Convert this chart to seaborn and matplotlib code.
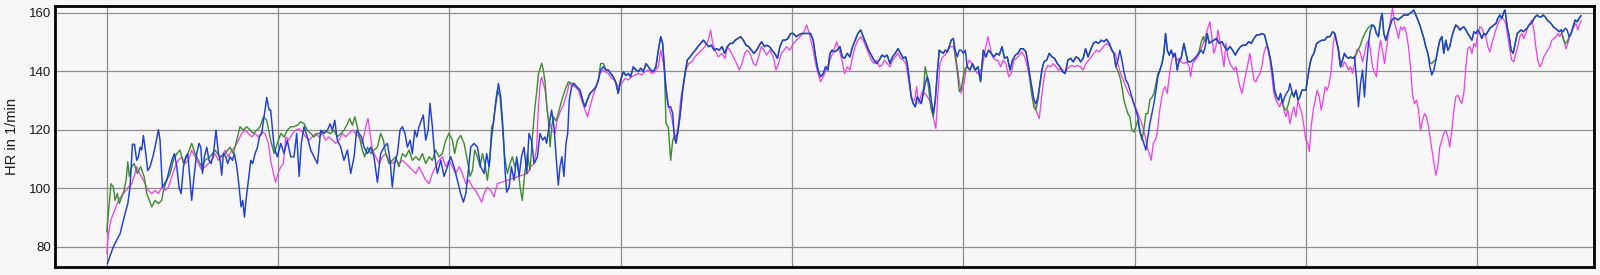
import matplotlib
matplotlib.use("Agg")
import matplotlib.pyplot as plt
import seaborn as sns
import pandas as pd
from matplotlib.ticker import MultipleLocator

# ---------------- data (time in minutes, HR in 1/min) ----------------
t_blue = [
    0.04,0.39,0.78,1.07,1.23,1.36,1.50,1.62,1.75,1.85,1.95,2.04,2.14,2.28,2.39,2.53,2.69,2.82,3.02,3.11,
    3.25,3.37,3.50,3.60,3.70,3.83,3.95,4.09,4.22,4.34,4.48,4.61,4.73,4.86,4.96,5.10,5.25,5.39,5.49,5.59,
    5.70,5.84,5.97,6.09,6.23,6.38,6.52,6.62,6.71,6.81,6.95,7.06,7.20,7.34,7.45,7.59,7.73,7.84,7.94,8.04,
    8.13,8.27,8.41,8.52,8.66,8.80,8.91,9.05,9.15,9.24,9.34,9.48,
    9.57,9.77,9.96,10.16,10.35,10.54,10.74,10.93,11.09,11.23,11.36,11.52,11.71,11.91,12.10,12.30,12.49,12.69,12.88,13.04,
    13.17,13.31,13.46,13.66,13.85,14.05,14.24,14.44,14.59,14.73,14.87,15.02,15.22,15.41,15.60,15.80,15.99,16.19,16.38,16.54,
    16.67,16.81,16.97,17.12,17.26,17.41,17.55,17.71,17.84,17.98,18.10,18.23,18.37,18.48,18.62,18.76,18.87,19.01,19.15,19.30,
    19.50,19.69,19.89,20.08,20.27,20.47,20.66,20.82,20.96,21.09,21.25,21.44,21.64,21.83,22.03,22.18,22.32,22.45,22.61,22.77,
    22.86,23.00,23.14,23.25,23.35,23.49,23.62,23.78,23.93,24.07,24.21,24.36,24.52,24.65,24.79,24.95,25.14,
    25.29,25.45,25.58,25.68,25.84,25.97,26.11,26.22,26.36,26.46,26.57,26.69,26.81,26.91,27.00,27.14,27.28,27.43,27.63,27.78,
    27.92,28.05,28.21,28.40,28.56,28.70,28.83,28.99,29.14,29.28,29.42,29.57,29.73,29.86,30.00,30.16,30.31,30.45,30.58,30.74,
    30.90,31.03,31.17,31.32,31.48,31.62,31.75,31.91,32.06,32.20,32.34,32.45,32.55,32.65,32.78,32.92,33.04,33.13,33.23,33.33,
    33.46,33.62,33.76,33.89,34.05,34.20,34.36,34.51,34.67,34.83,34.98,35.14,35.29,35.45,35.60,35.76,35.92,36.07,36.23,36.38,
    36.54,36.69,36.85,37.01,37.16,37.32,37.47,37.63,37.78,37.94,38.10,38.23,38.39,38.52,38.68,38.83,38.99,39.15,39.30,39.46,
    39.61,39.77,39.92,40.08,40.24,40.39,40.55,40.70,40.86,41.01,
    41.09,41.24,41.38,41.52,41.67,41.83,41.96,42.10,42.22,42.35,42.49,42.64,42.80,42.94,43.07,43.23,43.38,43.54,43.69,43.85,
    44.01,44.16,44.32,44.47,44.63,44.78,44.94,45.10,45.25,45.41,45.56,45.72,45.87,46.03,46.19,46.34,46.50,46.63,46.73,46.85,
    46.96,47.08,47.20,47.31,47.43,47.55,47.66,47.78,47.90,48.02,48.13,48.25,48.37,48.48,48.60,48.72,48.83,48.95,49.07,49.18,
    49.30,49.42,49.53,49.65,49.77,49.88,50.00,50.12,50.23,50.39,50.54,50.70,50.86,51.01,51.17,51.32,51.48,51.63,51.79,51.95,
    52.10,52.26,52.41,52.57,52.73,52.88,53.04,53.19,53.35,53.50,53.66,53.81,53.97,54.13,54.24,54.36,54.48,54.59,54.71,54.87,
    55.02,55.18,55.33,55.49,55.64,55.80,55.95,56.11,56.27,56.42,56.58,56.73,
    56.85,57.00,57.14,57.28,57.43,57.59,57.74,57.90,58.05,58.21,58.37,58.52,58.68,58.79,58.91,59.03,59.14,59.26,59.38,59.49,
    59.61,59.73,59.84,59.96,60.08,60.19,60.31,60.43,60.54,60.66,60.78,60.89,61.01,61.13,61.25,61.36,61.48,61.60,61.71,61.81,
    61.91,62.02,62.14,62.26,62.37,62.49,62.61,62.72,62.88,63.00,63.11,63.27,63.42,63.58,63.74,63.89,64.01,64.13,64.24,64.36,
    64.48,64.63,64.79,64.94,65.10,65.25,65.41,65.57,65.72,65.88,66.03,66.19,66.34,66.50,66.66,66.81,66.97,67.12,67.28,67.43,
    67.59,67.71,67.82,67.94,68.06,68.17,68.29,68.41,68.52,68.64,68.76,68.87,68.99,69.07,69.19,69.30,69.42,69.54,69.65,69.77,
    69.89,70.00,70.12,70.24,70.35,70.47,70.63,70.78,70.94,71.09,71.25,71.40,71.56,71.68,71.79,71.91,
    72.02,72.14,72.25,72.37,72.49,72.61,72.72,72.84,72.96,73.07,73.19,73.31,73.42,73.54,73.66,73.77,73.89,74.01,74.12,74.24,
    74.36,74.45,74.55,74.67,74.78,74.90,75.02,75.14,75.25,75.37,75.49,75.60,75.72,75.84,75.95,76.07,76.19,76.30,76.42,76.54,
    76.65,76.77,76.89,77.00,77.12,77.24,77.35,77.47,77.59,77.70,77.82,77.94,78.05,78.17,78.29,78.40,78.52,78.64,78.75,78.87,
    78.99,79.10,79.22,79.34,79.45,79.57,79.69,79.81,79.92,80.04,80.16,80.27,80.39,80.51,80.62,80.74,80.86,80.97,81.09,81.21,
    81.32,81.44,81.56,81.63,81.75,81.87,81.98,82.10,82.22,82.34,82.45,82.57,82.69,82.80,82.92,83.04,83.15,83.27,83.39,83.50,
    83.62,83.74,83.85,83.97,84.09,84.20,84.32,84.44,84.55,84.67,84.79,84.90,85.02,85.14,85.25,85.37,85.49,85.60,85.72,85.84,
    85.95,86.07,
]
hr_blue = [
    74.2,80,84.4,91.3,94.7,100.3,115,115,109.5,110.7,114,113,118,111.8,106,107.3,110.7,114,120,116.4,
    100.3,101.5,102.7,105,107.3,110,111.8,107.3,100.3,98.1,107.3,110.7,111.8,102.7,95.8,104.1,111.8,115.3,114,105,
    110.7,114,109.5,108.4,111.8,119.8,111.8,109.5,104.4,111.8,110.7,108.4,110.7,109.5,111.8,107.3,100.3,93.6,95.8,90.1,
    95.8,102.7,109.5,108.4,111.8,114,117.5,118.7,123.2,126.7,131,126.7,
    126.7,114,110.7,115.3,111.8,116.4,110.7,110.7,118.7,104,115.3,121,117.5,113,110.7,108.4,119.8,118.7,119.8,122,
    119.8,123.2,116.4,114,109.5,113,105,110.7,119.8,118.7,117.5,114,111.8,114,110.7,102,111.8,114,115.3,109.5,
    100.3,108.4,111.8,119.8,121,118.7,114,116.4,111.8,119.8,117.5,121,123.2,125,116.4,119.8,129,121,110.7,105,
    109.5,104,107.3,110.7,107.3,102.7,98.1,95.2,98.1,105,114,115.3,114,107.3,105,111.8,107.3,116.4,124.4,131.2,
    135.8,131.2,119.8,106.1,98.6,100.3,107.3,102.7,110.7,104,110.7,114,105,118.7,116.4,108.4,110.7,
    118.7,116.4,117.5,115.3,122,126.7,121,111.8,101,107.3,110.7,104,115.3,118.7,130.1,134.7,135.8,134.7,133.5,130.1,
    127.8,130.1,132.4,133.5,134.7,137,140.4,141.5,140.4,140.4,139.2,138.1,135.8,132.4,137,139.8,138.5,139.2,138.1,141.5,
    140.4,139.8,141,139.8,142.6,141.5,140.4,139.8,141.5,147.2,151.8,149.5,141.5,133.5,127.8,127.8,125.5,117.5,115.3,118.7,
    124.4,133.5,139.2,143.8,144.9,146.1,147.2,148.4,149.5,150.6,149.5,148.4,148.9,147.2,147.7,147.2,148.4,146.1,148.4,149.5,
    149.5,150.6,151.2,151.8,150.6,148.9,148.4,147.2,146.1,147.2,148.9,150.1,148.4,148.9,148.4,147.2,146.1,144.4,148.4,150.6,
    150.6,151.2,152.9,152.9,151.8,152.4,152.9,152.9,152.9,152.9,
    152.9,150.6,144.9,140.4,138.1,139.2,141.5,140.4,146.1,147.2,146.6,147.2,148.4,144.9,144.4,146.1,144.9,148.4,150.6,152.9,
    154.1,151.8,149.5,147.2,145.5,143.8,142.6,143.8,145.5,144.9,145.5,142.6,144.9,146.1,147.7,146.1,144.4,144.9,142.6,137,
    131.2,128.9,127.8,131.2,130.1,128.9,132.4,135.8,138.1,135.8,130.1,125.5,130.1,139.2,147.2,146.6,146.1,147.2,146.6,148.4,
    150.6,151.2,147.2,144.9,147.2,147.2,146.1,147.2,141.5,140.4,142.6,140.4,141.5,136.4,147.2,144.9,147.2,146.1,144.9,146.1,
    145.5,148.4,144.4,144.9,140.4,143.8,145.5,146.1,147.7,147.7,146.6,141.5,135.8,130.1,128.9,131.2,135.8,140.4,143.2,143.8,
    146.1,144.9,144.4,142.6,141.5,139.8,139.2,143.8,144.4,143.2,144.9,144.4,
    143.2,144.4,147.7,144.9,147.2,149.5,150.1,149.5,150.6,150.1,150.9,149.5,147.2,146.1,141.5,143.8,147.2,143.8,139.8,137,
    135.8,133.5,131.2,128.9,126.7,124.4,119.2,117.5,115.3,113,117.5,122,125.5,128.9,133.5,138.1,140.4,142.6,146.1,152.9,
    147.2,145.5,147.2,144.9,146.1,140.4,143.8,144.4,149.5,146.1,143.2,143.2,143.8,144.9,146.1,147.2,146.1,148.4,152.9,149.5,
    150.1,150.6,151.2,149.5,150.1,148.4,147.2,148.4,147.2,145.5,147.2,148.4,148.9,148.9,150.1,149.5,151.2,152.4,152.4,152.9,
    152.4,149.5,147.2,143.8,139.2,133.5,131.2,130.1,132.4,128.9,131.2,132.4,133.5,135.8,132.9,131.2,133.5,130.1,131.2,133.5,
    133.5,133.5,138.1,142.6,144.9,146.1,149.5,150.1,150.6,150.6,151.8,151.8,153.5,152.9,150.1,147.2,
    141.5,143.8,146.1,144.9,144.4,144.9,144.4,144.9,137,127.8,135.8,140.4,131.2,142,150,154.1,155.8,155.2,152.9,151.8,
    157.5,159.8,152.9,150.6,152.9,155.2,157.5,158.1,158.1,157.5,158.1,158.6,159.2,159.2,159.2,159.8,160.3,160.9,159.2,157.5,
    155.8,153.5,151.2,148.4,146.1,141.5,138.7,140.4,143.8,147.2,150.6,151.8,146.1,150.6,147.2,148.4,151.8,154.1,155.8,155.2,
    154.1,154.7,155.2,154.1,152.9,151.8,150.6,153.5,152.9,154.1,152.9,151.2,152.9,152.4,153.5,154.7,155.2,155.8,156.3,158.1,
    159.2,158.1,160.3,160.9,155.2,151.8,147.2,146.1,149.5,152.9,153.5,154.1,153.5,154.1,154.7,155.8,156.3,157.5,158.6,159.2,
    158.6,158.6,159.2,158.6,157.5,156.9,156.3,155.2,154.7,154.1,153.5,154.1,153.5,154.7,154.1,151.8,152.9,155.2,157.5,156.9,
    158.1,159,
]

t_green = [
    0.00,0.25,0.39,0.49,0.62,0.74,0.88,1.01,1.13,1.23,1.32,1.46,1.60,1.79,1.98,2.18,2.34,2.63,2.82,3.02,
    3.21,3.31,3.50,3.70,3.89,4.09,4.28,4.48,4.67,4.96,5.16,5.35,5.55,5.74,6.03,6.32,6.62,6.91,7.20,7.39,
    7.59,7.78,7.98,8.17,8.37,8.56,8.76,8.95,9.15,9.34,
    9.57,9.77,9.96,10.16,10.35,10.54,10.74,10.93,11.13,11.32,11.52,11.71,11.91,12.10,12.30,12.49,12.69,12.88,13.07,13.27,
    13.46,13.66,13.85,14.05,14.18,14.34,14.48,14.63,14.79,14.92,15.06,15.22,15.41,15.60,15.80,15.99,16.15,16.29,16.48,16.67,
    16.87,17.06,17.26,17.45,17.65,17.84,18.04,18.23,18.43,18.62,18.82,19.01,19.20,19.40,19.59,19.79,19.98,20.18,20.31,20.47,
    20.66,20.86,21.05,21.21,21.35,21.48,21.64,21.79,21.93,22.07,22.22,22.36,22.47,22.57,22.71,22.80,22.96,23.10,23.23,23.39,
    23.54,23.68,23.82,23.97,24.13,24.26,24.40,24.56,24.71,
    24.85,24.98,25.10,25.20,25.39,25.49,25.59,25.69,25.78,25.88,25.98,26.07,26.23,26.36,26.56,26.75,26.95,27.14,
    27.28,27.43,27.63,27.78,27.92,28.05,28.21,28.40,28.56,28.70,28.83,28.99,29.14,29.28,29.42,29.57,29.73,29.86,30.00,30.16,
    30.31,30.45,30.58,30.74,30.90,31.03,31.17,31.32,31.48,31.62,31.75,31.91,32.06,32.20,32.34,32.45,32.55,32.65,32.78,32.92,
    33.04,33.13,33.23,33.33,33.46,33.62,33.76,33.89,34.05,34.20,34.36,34.51,34.67,34.83,34.98,35.14,35.29,35.45,35.60,35.76,
    35.92,36.07,36.23,36.38,36.54,36.69,36.85,37.01,37.16,37.32,37.47,37.63,37.78,37.94,38.10,38.23,38.39,38.52,38.68,38.83,
    38.99,39.15,39.30,39.46,39.61,39.77,39.92,40.08,40.24,40.39,40.55,40.70,40.86,41.01,
    41.09,41.24,41.38,41.52,41.67,41.83,41.96,42.10,42.22,42.35,42.49,42.64,42.80,42.94,43.07,43.23,43.38,43.54,43.69,43.85,
    44.01,44.16,44.32,44.47,44.63,44.78,44.94,45.10,45.25,45.41,45.56,45.72,45.87,46.03,46.19,46.34,46.50,46.63,46.73,46.85,
    46.96,47.08,47.20,47.31,47.43,47.55,47.66,47.78,47.90,48.02,48.13,48.25,48.37,48.48,48.60,48.72,48.83,48.95,49.07,49.18,
    49.30,49.42,49.53,49.65,49.77,49.88,50.00,50.12,50.23,50.39,50.54,50.70,50.86,51.01,51.17,51.32,51.48,51.63,51.79,51.95,
    52.10,52.26,52.41,52.57,52.73,52.88,53.04,53.19,53.35,53.50,53.66,53.81,53.97,54.13,54.24,54.36,54.48,54.59,54.71,54.87,
    55.02,55.18,55.33,55.49,55.64,55.80,55.95,56.11,56.27,56.42,56.58,56.73,
    56.85,57.00,57.14,57.28,57.43,57.59,57.74,57.90,58.05,58.21,58.37,58.52,58.68,58.79,58.91,59.03,59.14,59.26,59.38,59.49,
    59.61,59.73,59.84,59.96,60.08,60.19,60.31,60.43,60.54,60.66,60.78,60.89,61.01,61.13,61.25,61.36,61.48,61.60,61.71,61.81,
    61.91,62.02,62.14,62.26,62.37,62.49,62.61,62.72,62.88,63.00,63.11,63.27,63.42,63.58,63.74,63.89,64.01,64.13,64.24,64.36,
    64.48,64.63,64.79,64.94,65.10,65.25,65.41,65.57,65.72,65.88,66.03,66.19,66.34,66.50,66.66,66.81,66.97,67.12,67.28,67.43,
    67.59,67.71,67.82,67.94,68.06,68.17,68.29,68.41,68.52,68.64,68.76,68.87,68.99,69.07,69.19,69.30,69.42,69.54,69.65,69.77,
    69.89,70.00,70.12,70.24,70.35,70.47,70.63,70.78,70.94,71.09,71.25,71.40,71.56,71.68,71.79,71.91,
    72.02,72.14,72.25,72.37,72.49,72.61,72.72,72.84,72.96,73.07,73.19,73.31,73.42,73.54,73.66,73.77,73.89,74.01,74.12,74.24,
    74.36,74.45,74.55,74.67,74.78,74.90,75.02,75.14,75.25,75.37,75.49,75.60,75.72,75.84,75.95,76.07,76.19,76.30,76.42,76.54,
    76.65,76.77,76.89,77.00,77.12,77.24,77.35,77.47,77.59,77.70,77.82,77.94,78.05,78.17,78.29,78.40,78.52,78.64,78.75,78.87,
    78.99,79.10,79.22,79.34,79.45,79.57,79.69,79.81,79.92,80.04,80.16,80.27,80.39,80.51,80.62,80.74,80.86,80.97,81.09,81.21,
    81.32,81.44,81.56,81.63,81.75,81.87,81.98,82.10,82.22,82.34,82.45,82.57,82.69,82.80,82.92,83.04,83.15,83.27,83.39,83.50,
    83.62,83.74,83.85,83.97,84.09,84.20,84.32,84.44,84.55,84.67,84.79,84.90,85.02,85.14,85.25,85.37,85.49,85.60,85.72,85.84,
    85.95,86.07,
]
hr_green = [
    85,101.5,100.3,95.8,98.1,94.7,97,99.2,102.7,109,104,107.3,108.4,105,107.3,104,98.1,93.6,95.8,94.7,
    95.8,99.2,102.7,105,109.5,111.8,113,108.4,110.7,115.3,111.8,109.5,107.3,109.5,110.7,113,110.7,111.8,114,111.8,
    116.4,121,119.8,121,119.8,118.7,119.8,121,124.4,123.2,
    116.4,111.8,115.3,118.7,117.5,119.8,121,121,121.5,122.7,122,119.8,118.7,117.5,118.7,118.7,119.8,119.2,118.7,119.8,
    117.5,118.7,119.8,122,123.8,121.5,124.4,121,116.4,113,110.7,114,111.8,113,114,118.7,116.4,111.8,108.4,109.5,
    110.7,107.3,111.8,110.7,113,109.5,110.7,109.5,111.8,108.4,110.7,109.5,113,110.7,111.8,116.4,118.7,116.4,111.8,116.4,
    118,115.3,109.5,104,106.1,113,110.7,107.3,111.8,108.4,102.7,109.5,121,122,130.1,133.5,131.2,121,110.7,105,
    108.4,110.7,107.3,109.5,100.3,95.8,105,111.8,106.1,
    117.5,126.7,133,139,142.7,140.4,136,127.8,123.3,114.1,121,124.4,123,125.5,130.1,133.5,136.4,135.8,
    135.8,134.7,133.5,130.1,127.8,130.1,132.4,133.5,134.7,137,142.6,142.6,140.4,140.4,139.2,138.1,135.8,132.4,137,139.8,
    138.5,139.2,138.1,141.5,140.4,139.8,141,139.8,142.6,141.5,140.4,139.8,141.5,147.2,151.8,149.5,141.5,122,121,109.5,
    116.4,117.5,118,118.7,124.4,133.5,139.2,143.8,144.9,146.1,147.2,148.4,149.5,150.6,149.5,148.4,148.9,147.2,147.7,147.2,
    148.4,146.1,148.4,149.5,149.5,150.6,151.2,151.8,150.6,148.9,148.4,147.2,146.1,147.2,148.9,150.1,148.4,148.9,148.4,147.2,
    146.1,144.4,148.4,150.6,150.6,151.2,152.9,152.9,151.8,152.4,152.9,152.9,152.9,152.9,
    152.9,150.6,144.9,140.4,138.1,139.2,141.5,140.4,146.1,147.2,146.6,147.2,148.4,144.9,144.4,146.1,144.9,148.4,150.6,152.9,
    154.1,151.8,149.5,147.2,145.5,143.8,142.6,143.8,145.5,144.9,145.5,142.6,144.9,146.1,147.7,146.1,144.4,144.9,142.6,137,
    131.2,128.9,127.8,131.2,130.1,128.9,132.4,141.5,138,132,127,124.4,130,139.2,147.2,146.6,146.1,147.2,146.6,148.4,
    150.6,151.2,145,140,133,134,138,141,141.5,140.4,142.6,140.4,141.5,136.4,147.2,144.9,147.2,146.1,144.9,146.1,
    145.5,148.4,144.4,144.9,140.4,143.8,145.5,146.1,147.7,147.7,146.6,141.5,133,127.5,126.7,130,135.8,140.4,143.2,143.8,
    146.1,144.9,144.4,142.6,141.5,139.8,139.2,143.8,144.4,143.2,144.9,144.4,
    143.2,144.4,147.7,144.9,147.2,149.5,150.1,149.5,150.6,150.1,150.9,149.5,147.2,146.1,141.5,140,138.1,134.7,130.1,127.8,
    125.5,124.4,119.8,119.2,121,123.2,119.8,116.4,120,125.5,125.5,130.1,131,132.4,135.8,139.2,140.4,142.6,146.1,152.9,
    147.2,145.5,147.2,144.9,146.1,140.4,143.8,144.4,149.5,146.1,143.2,143.2,143.8,144.9,146.1,150,151.8,150,152.9,149.5,
    150.1,150.6,151.2,149.5,150.1,148.4,147.2,148.4,147.2,145.5,147.2,148.4,148.9,148.9,150.1,149.5,151.2,152.4,152.4,152.9,
    152.4,149.5,147.2,143.8,139.2,133.5,131.2,130.1,132.4,128.9,127,126.7,129,131,132.9,131.2,133.5,130.1,131.2,133.5,
    133.5,133.5,138.1,142.6,144.9,146.1,149.5,150.1,150.6,150.6,151.8,151.8,153.5,152.9,150.1,147.2,
    141.5,143.8,146.1,144.9,144.4,144.9,144.4,145,146,147.5,149,151.2,152.6,154,155,155.5,156,155.2,152.9,151.8,
    157.5,159.8,152.9,150.6,152.9,155.2,157.5,158.1,158.1,157.5,158.1,158.6,159.2,159.2,159.2,159.8,160.3,160.9,159.2,157.5,
    155.8,153.5,151.2,148.4,146.1,143,142.6,143.5,143.8,147.2,150.6,151.8,146.1,150.6,147.2,148.4,151.8,154.1,155.8,155.2,
    154.1,154.7,155.2,154.1,152.9,151.8,150.6,153.5,152.9,154.1,152.9,151.2,152.9,152.4,153.5,154.7,155.2,155.8,156.3,158.1,
    159.2,158.1,160.3,160.9,155.2,151.8,147.2,146.1,149.5,152.9,153.5,154.1,153.5,154.1,154.7,155.8,156.3,157.5,158.6,159.2,
    158.6,158.6,159.2,158.6,157.5,156.9,156.3,155.2,154.7,154.1,153.5,154.1,151,149.5,150,151.8,152.9,155.2,157.5,156.9,
    158.1,159,
]

t_magenta = [
    0.00,0.10,0.23,0.39,0.54,0.68,0.82,0.97,1.13,1.26,1.46,1.65,1.75,1.91,2.04,2.24,2.43,2.63,2.82,3.02,
    3.21,3.41,3.60,3.79,3.99,4.18,4.38,4.57,4.77,4.96,5.16,5.35,5.55,5.74,5.94,6.13,6.32,6.52,6.71,6.91,
    7.10,7.30,7.49,7.69,7.88,8.08,8.27,8.47,8.66,8.85,9.05,9.24,9.44,
    9.57,9.73,9.86,10.00,10.16,10.31,10.45,10.64,10.84,11.03,11.23,11.42,11.62,11.81,12.00,12.20,12.39,12.59,12.78,12.98,
    13.17,13.37,13.56,13.76,13.95,14.14,14.34,14.53,14.73,14.92,15.12,15.25,15.37,15.51,15.70,15.90,16.09,16.29,16.48,16.67,
    16.87,17.06,17.26,17.45,17.65,17.84,18.04,18.23,18.43,18.62,18.82,19.01,19.20,19.40,19.59,19.79,19.98,20.18,20.37,20.57,
    20.76,20.96,21.15,21.35,21.54,21.73,21.89,22.03,22.22,22.42,22.61,22.80,24.56,24.75,24.95,
    25.10,25.20,25.30,25.39,25.48,25.59,25.76,25.98,26.17,26.29,26.46,26.63,26.86,
    27.00,27.14,27.33,27.53,27.72,27.92,28.07,28.21,28.37,28.50,28.64,28.79,28.95,29.09,29.28,29.47,29.67,29.86,30.06,30.25,
    30.45,30.64,30.84,31.03,31.23,31.42,31.62,31.81,32.00,32.20,32.34,32.49,32.65,32.80,32.98,33.11,33.23,33.37,33.50,33.66,
    33.81,33.97,34.15,34.34,34.53,34.73,34.92,35.12,35.25,35.37,35.51,35.70,35.90,36.09,36.23,36.38,36.58,36.77,36.93,37.08,
    37.24,37.39,37.55,37.75,37.90,38.06,38.21,38.37,38.52,38.72,38.91,39.07,39.22,39.38,39.54,39.69,39.89,40.08,40.27,40.47,
    40.66,40.86,41.01,
    41.24,41.38,41.52,41.67,41.83,41.98,42.14,42.29,42.45,42.61,42.76,42.92,43.07,43.23,43.38,43.54,43.69,43.85,44.01,44.16,
    44.32,44.47,44.63,44.78,44.94,45.10,45.25,45.41,45.56,45.72,45.87,46.03,46.19,46.34,46.50,46.65,46.81,46.93,47.04,47.16,
    47.28,47.39,47.51,47.63,47.74,47.86,48.02,48.17,48.29,48.40,48.52,48.64,48.79,48.95,49.10,49.26,49.42,49.57,49.73,49.88,
    50.04,50.19,50.35,50.51,50.66,50.82,50.97,51.13,51.28,51.44,51.56,51.71,51.87,52.02,52.18,52.34,52.49,52.65,52.80,52.96,
    53.11,53.27,53.42,53.58,53.74,53.89,54.05,54.20,54.32,54.44,54.55,54.67,54.79,54.94,55.10,55.25,55.41,55.57,55.72,55.88,
    56.03,56.19,56.34,56.50,56.66,
    56.85,57.00,57.16,57.31,57.47,57.63,57.78,57.94,58.09,58.25,58.40,58.56,58.72,58.87,59.03,59.18,59.34,59.49,59.65,59.81,
    59.96,60.12,60.27,60.43,60.58,60.74,60.86,60.97,61.09,61.21,61.32,61.44,61.56,61.67,61.79,61.91,62.02,62.14,62.26,62.37,
    62.49,62.61,62.72,62.88,63.04,63.19,63.27,63.39,63.54,63.70,63.85,64.01,64.13,64.24,64.40,64.51,64.63,64.75,64.87,64.98,
    65.10,65.22,65.33,65.45,65.57,65.68,65.80,65.92,66.03,66.15,66.27,66.38,66.50,66.62,66.73,66.85,66.97,67.08,67.20,67.32,
    67.43,67.55,67.67,67.78,67.90,68.02,68.13,68.25,68.37,68.48,68.60,68.72,68.83,68.95,69.07,69.19,69.30,69.42,69.54,69.65,
    69.77,69.89,70.00,70.12,70.20,70.31,70.43,70.55,70.66,70.78,70.90,71.01,71.13,71.25,71.36,71.48,71.60,71.71,71.83,71.95,
    72.02,72.14,72.25,72.37,72.49,72.61,72.72,72.84,72.96,73.07,73.19,73.31,73.42,73.54,73.66,73.77,73.89,74.01,74.12,74.24,
    74.36,74.47,74.59,74.71,74.82,74.94,75.06,75.18,75.29,75.41,75.53,75.64,75.76,75.87,75.99,76.11,76.22,76.34,76.46,76.58,
    76.69,76.81,76.93,77.04,77.16,77.28,77.39,77.51,77.59,77.70,77.82,77.94,78.05,78.17,78.29,78.40,78.52,78.64,78.75,78.87,
    78.99,79.10,79.22,79.34,79.45,79.57,79.69,79.81,79.92,80.04,80.16,80.27,80.39,80.51,80.62,80.74,80.86,80.97,81.09,81.21,
    81.32,81.44,81.56,81.67,81.79,81.91,82.02,82.14,82.26,82.37,82.49,82.61,82.72,82.84,82.96,83.07,83.19,83.31,83.42,83.54,
    83.66,83.78,83.89,84.01,84.13,84.24,84.36,84.48,84.59,84.71,84.83,84.94,85.06,85.18,85.29,85.41,85.53,85.64,85.76,85.88,
    85.99,86.07,
]
hr_magenta = [
    77.6,84.4,89,91.3,93.6,95.8,97,98.1,99.2,100.3,101.5,105,107.3,105,103.8,101.5,99.2,98.1,99.2,98.1,
    100.3,99.2,100.3,103.8,107.3,109.5,110.7,108.4,109.5,113,110.7,108.4,106.1,107.3,108.4,109.5,111.8,109.5,110.7,113,
    110.7,113,114,116.4,118.7,119.8,118.7,117.5,118.7,117.5,119.2,118.7,115.3,
    109.5,105,102,105,107.3,108.4,117.5,116.4,118.7,119.8,120.3,119.2,117.5,116.4,117.5,118.7,117.5,118.7,116.4,117.5,
    116.4,115.3,116.4,118.7,117.5,118.7,119.8,118.7,117.5,115.3,121,123.8,118.7,113,110.7,108.4,110.7,111.8,109.5,108.4,
    109.5,108.4,109.5,108.4,107.3,106.1,105,107.3,105,102.7,101.5,105,107.3,109.5,110.7,107.3,109.5,107.3,105,107.3,
    105,101.5,102.7,100.3,99.2,97,95.2,98.1,100.3,99.2,97,101.5,105,107.3,108.4,
    114,128,136,138,136,133.5,124.4,120,118.7,123,126,128,132.4,
    135.8,135.2,134.7,133.5,130.1,126.7,124.4,127.8,131.2,133.5,135.8,139.2,140.4,139.8,139.2,137.5,137,134.7,135.8,137.5,
    137,138.1,138.7,139.2,138.7,139.8,140.4,139.2,139.8,141.5,147.2,142.6,134.7,127.8,124.4,119.8,116.4,122,130.1,135.8,
    140.4,142.6,143.2,144.9,146.1,147.2,148.4,150.6,154.1,149.5,147.2,144.9,146.1,144.4,148.4,147.2,144.9,142.6,140.4,142.6,
    146.1,147.2,146.1,142.6,142,144.9,148.4,147.2,145.5,147.2,144.9,140.4,142.6,146.1,147.2,148.4,147.2,149.5,150.6,151.8,
    152.9,155.8,152.9,
    147.2,142.6,139.2,136.4,138.1,140.4,142.6,144.9,147.2,150.1,147.2,143.8,139.2,141.5,140.4,144.9,148.4,150.6,151.8,150.6,
    148.4,146.1,143.8,142.6,143.8,141.5,142,143.8,142.6,141.5,143.8,144.9,146.1,144.4,143.8,142.6,137,132.4,130.1,130.1,
    134.7,128.9,131.2,133.5,132.4,131.8,130.1,126.7,123.2,120.4,132.4,142.6,144.9,145.5,147.2,148.4,148.4,144.9,138.1,132.4,
    135.8,141.5,143.8,142.6,140.4,139.2,139.8,142,147.2,151.8,148.4,144.9,143.8,143.8,141.5,143.8,142.6,138.1,139.2,143.8,
    144.4,145.5,146.6,144.9,141.5,137,132.4,127.8,125.5,123.8,130.1,135.8,140.4,142,141.5,142.6,141.5,140.4,141,139.8,
    140.4,141.5,142,141.5,142,
    141.5,140.4,142.6,143.8,144.9,146.1,147.2,146.6,147.7,148.9,149.5,148.4,146.6,146.1,142.6,139.2,137,134.7,132.4,131.2,
    128.9,126.7,124.4,122,118.7,114.1,111.8,109.5,115.3,116.4,118.7,125.5,130.1,133.5,134.7,132.4,138.1,142.6,146.1,144.9,
    143.8,144.4,143.2,142.6,143.2,141.5,138.1,142.6,143.8,144.9,147.2,149.5,151.8,154.1,156.9,151.8,146.1,148.4,154.1,150.6,
    146.1,141.5,149.5,144.9,142.6,141.5,140.4,141.5,138.1,134.7,132.4,135.8,139.2,142.6,146.1,141.5,137,136.4,138.1,139.2,
    141.5,146.1,148.4,147.7,143.8,138.1,132.4,130.1,128.9,127.8,130.1,126.7,124.4,126.7,122,125.5,127.8,124.4,130.1,127.8,
    125.5,121,116.4,115.3,112.4,121,126.7,130.1,133.5,131.2,126.7,130.1,134.7,133.5,135.8,140.4,149.5,152.9,149.5,143.8,
    142.6,141.5,143.2,142,140.4,141.5,139.2,142.6,147.2,147.7,146.1,143.2,146.1,149.5,150.6,147.2,141.5,139.5,138.1,146.1,
    150.6,147.2,142.6,147.7,152.9,157.5,161.5,156.3,154.1,151.2,155.2,154.1,155.2,152.9,148.4,141.5,132.4,128.9,130.1,126.7,
    119.8,123.2,125.5,124.4,121,116.4,111.8,107.3,104.4,107.3,114.1,116.4,118.7,119.8,117.5,114.1,119.8,126.7,131.2,131.8,
    130.1,128.9,132.4,141.5,147.7,148.4,146.1,149.5,148.4,152.9,155.2,154.7,152.9,151.8,148.4,146.6,149.5,151.8,154.1,156.3,
    157.5,158.6,157.5,156.3,151.8,147.2,143.8,143.2,146.1,148.4,151.8,152.9,151.2,152.9,155.2,156.3,157.5,154.1,148.4,143.8,
    141.5,142.6,144.9,146.1,147.2,148.4,150.6,151.2,151.8,152.9,151.8,153.5,150.6,147.7,149.5,151.8,154.1,155.2,156.3,154.1,
    156.3,157.5,
]

series_names = ["magenta", "green", "blue"]
series_colors = {"magenta": "#f23cf2", "green": "#3a8c2a", "blue": "#1e3fdc"}
y_ticks = [80, 100, 120, 140, 160]
y_label = "HR in 1/min"

# ---------------- build table ----------------
frames = []
for name, tt, hh in [("magenta", t_magenta, hr_magenta),
                     ("green", t_green, hr_green),
                     ("blue", t_blue, hr_blue)]:
    n = min(len(tt), len(hh))
    frames.append(pd.DataFrame({"t": tt[:n], "hr": hh[:n], "series": name}))
df = pd.concat(frames, ignore_index=True)

# ---------------- plot ----------------
BG = "#f7f7f7"
sns.set_theme(style="whitegrid")
plt.rcParams["font.family"] = ["Liberation Sans", "DejaVu Sans"]

fig = plt.figure(figsize=(16, 2.75), dpi=100, facecolor=BG)
ax = fig.add_axes([55 / 1600, 8 / 275, (1594 - 55) / 1600, (269 - 8) / 275])
ax.set_facecolor(BG)

widths = {"magenta": 0.9, "green": 1.0, "blue": 1.05}
for name in series_names:
    sub = df[df["series"] == name]
    sns.lineplot(data=sub, x="t", y="hr", ax=ax, color=series_colors[name],
                 linewidth=widths[name], estimator=None, sort=False, legend=False)

ax.set_xlim(-3.02, 86.82)
ax.set_ylim(73, 162.3)
ax.xaxis.set_major_locator(MultipleLocator(10))
ax.set_yticks(y_ticks)
ax.grid(True, color="#8e8e8e", linewidth=0.9)
ax.set_axisbelow(True)
ax.tick_params(axis="x", labelbottom=False, length=0)
ax.tick_params(axis="y", length=0, pad=3, labelsize=9.5, labelcolor="#1a1a1a")
ax.set_xlabel("")
ax.set_ylabel(y_label, fontsize=10.5, color="#1a1a1a", labelpad=7)
for sp in ax.spines.values():
    sp.set_visible(True)
    sp.set_color("black")
    sp.set_linewidth(2.0)

fig.savefig("out.png", dpi=100, facecolor=BG)
